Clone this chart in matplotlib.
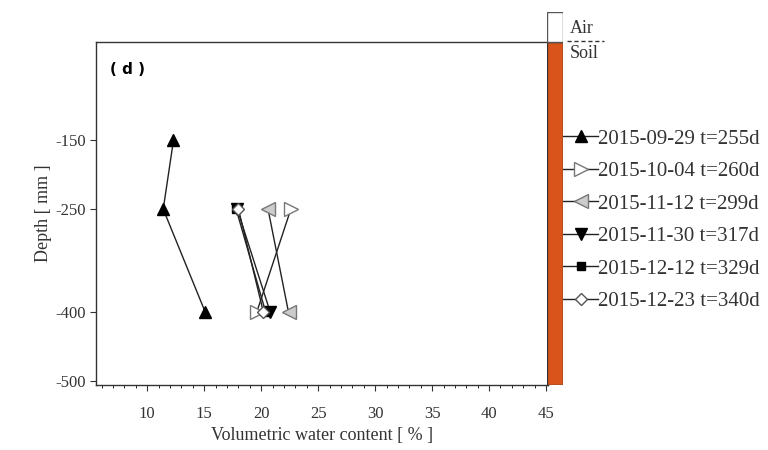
import matplotlib.pyplot as plt
from matplotlib.ticker import MultipleLocator

plt.rcParams["font.family"] = ["Liberation Serif", "DejaVu Serif"]
plt.rcParams["axes.unicode_minus"] = False

# profiles: volumetric water content (%) vs depth (mm)
depth_a = [-150, -250, -400]
depth_b = [-250, -400]

vwc_0929 = [12.3, 11.4, 15.1]
vwc_1004 = [22.6, 19.6]
vwc_1112 = [20.6, 22.4]
vwc_1130 = [17.9, 20.8]
vwc_1212 = [17.8, 20.4]
vwc_1223 = [18.0, 20.2]

labels = ["2015-09-29 t=255d", "2015-10-04 t=260d", "2015-11-12 t=299d",
          "2015-11-30 t=317d", "2015-12-12 t=329d", "2015-12-23 t=340d"]

y_ticks = [-150, -250, -400, -500]
x_ticks = [10, 15, 20, 25, 30, 35, 40, 45]

Y_TOP, Y_BOT = -7, -505

fig = plt.figure(figsize=(7.68, 4.5), dpi=100)
ax = fig.add_axes([0.125, 0.145, 0.589, 0.762])

line_kw = dict(color="#222222", linewidth=1.0)
ax.plot(vwc_0929, depth_a, marker="^", markersize=9, markerfacecolor="black",
        markeredgecolor="black", label=labels[0], **line_kw)
ax.plot(vwc_1004, depth_b, marker=">", markersize=10, markerfacecolor="white",
        markeredgecolor="#777777", label=labels[1], **line_kw)
ax.plot(vwc_1112, depth_b, marker="<", markersize=10, markerfacecolor="#cccccc",
        markeredgecolor="#777777", label=labels[2], **line_kw)
ax.plot(vwc_1130, depth_b, marker="v", markersize=9, markerfacecolor="black",
        markeredgecolor="black", label=labels[3], **line_kw)
ax.plot(vwc_1212, depth_b, marker="s", markersize=6, markerfacecolor="black",
        markeredgecolor="black", label=labels[4], **line_kw)
ax.plot(vwc_1223, depth_b, marker="D", markersize=6, markerfacecolor="white",
        markeredgecolor="#555555", label=labels[5], **line_kw)

ax.set_xlim(5.5, 45.2)
ax.set_ylim(Y_BOT, Y_TOP)
ax.set_xticks(x_ticks)
ax.xaxis.set_minor_locator(MultipleLocator(1))
ax.set_yticks(y_ticks)
ax.tick_params(axis="both", direction="out", labelsize=12, colors="#333333")
ax.tick_params(axis="x", which="major", length=4, pad=11)
ax.tick_params(axis="x", which="minor", length=2)
ax.tick_params(axis="y", length=4)
for sp in ax.spines.values():
    sp.set_color("#333333")
    sp.set_linewidth(1.0)

ax.set_xlabel("Volumetric water content [ % ]", fontsize=13, color="#333333", labelpad=4)
ax.set_ylabel("Depth [ mm ]", fontsize=13, color="#333333", labelpad=2)
ax.text(0.03, 0.918, "( d )", transform=ax.transAxes, fontsize=11,
        fontweight="bold", family="DejaVu Sans", va="center")

# soil / air column, same vertical scale as the main axes
bar = fig.add_axes([0.7125, 0.145, 0.021, 0.828])
bar.set_xlim(0, 1)
bar.set_ylim(Y_BOT, 36)
bar.bar(0.5, Y_BOT - Y_TOP, bottom=Y_TOP, width=1.0, color="#D9541A",
        edgecolor="#333333", linewidth=1.0)
bar.bar(0.5, 36 - Y_TOP, bottom=Y_TOP, width=1.0, color="white",
        edgecolor="#555555", linewidth=1.0)
bar.axis("off")

fig.text(0.742, 0.936, "Air", fontsize=13, color="#333333", va="center")
fig.text(0.742, 0.882, "Soil", fontsize=13, color="#333333", va="center")
fig.lines.append(plt.Line2D([0.738, 0.787], [0.908, 0.908], transform=fig.transFigure,
                            color="#333333", linewidth=1.0, linestyle=(0, (3, 2))))

ax.legend(loc="upper left", bbox_to_anchor=(1.015, 0.77), frameon=False,
          fontsize=15, handlelength=1.65, handletextpad=0.0,
          labelspacing=0.62, borderaxespad=0, labelcolor="#333333")

fig.savefig("out.png", dpi=100)
